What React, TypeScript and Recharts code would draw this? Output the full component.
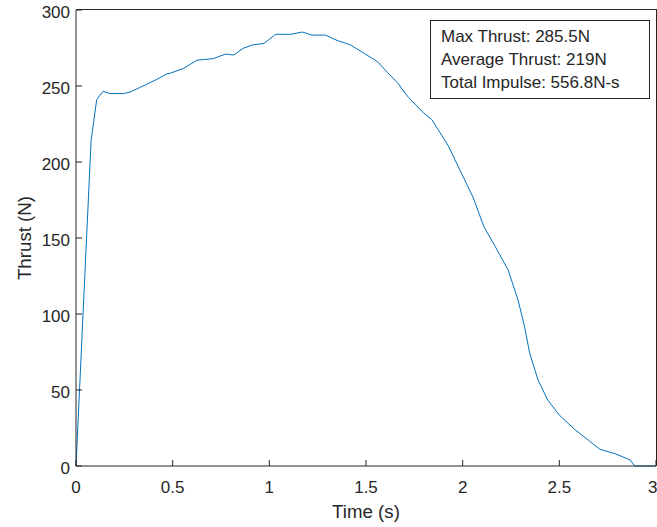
import { Label, Line, LineChart, XAxis, YAxis } from "recharts";

const time = [
  0, 0.078, 0.107, 0.14, 0.176, 0.245, 0.28, 0.33, 0.38, 0.42, 0.47, 0.49, 0.557, 0.626, 0.71,
  0.773, 0.816, 0.865, 0.912, 0.972, 1.033, 1.11, 1.171, 1.22, 1.29, 1.35, 1.42, 1.49, 1.56,
  1.61, 1.664, 1.716, 1.8, 1.84, 1.924, 2.053, 2.11, 2.17, 2.235, 2.287, 2.32, 2.347, 2.39,
  2.44, 2.5, 2.58, 2.65, 2.71, 2.79, 2.866, 2.89, 3,
];
const thrust = [
  0, 214, 241, 246.5, 245, 245, 246, 249, 252, 254.5, 258, 258.5, 261.6, 267, 268, 271, 270.4,
  274.8, 277, 278, 284, 284, 285.5, 283.5, 283.5, 280, 277, 271.5, 266, 259, 252, 243, 232,
  228, 211, 177, 157.4, 144, 129, 109, 91.6, 74, 56.6, 43.4, 33.5, 24, 17, 11, 8, 4, 0, 0,
];
const xTicks = [0, 0.5, 1, 1.5, 2, 2.5, 3];
const yTicks = [0, 50, 100, 150, 200, 250, 300];
const notes = ["Max Thrust: 285.5N", "Average Thrust: 219N", "Total Impulse: 556.8N-s"];

const data = time.map((t, i) => ({ t, f: thrust[i] }));

const ink = "#262626";
const font = "'Liberation Sans', Arial, sans-serif";

export default function App() {
  return (
    <div style={{ position: "absolute", left: 0, top: 0, width: 657, height: 527, background: "#fff" }}>
      <LineChart
        width={657}
        height={527}
        data={data}
        margin={{ top: 10, right: 1, bottom: 0, left: 0 }}
        style={{ fontFamily: font }}
      >
        <XAxis
          dataKey="t"
          type="number"
          domain={[0, 3]}
          ticks={xTicks}
          height={61}
          stroke={ink}
          tickSize={-6}
          tickMargin={21}
          tick={{ fill: ink, fontSize: 17 }}
        >
          <Label value="Time (s)" position="insideBottom" offset={9} fill={ink} fontSize={18.7} />
        </XAxis>
        <YAxis
          type="number"
          domain={[0, 300]}
          ticks={yTicks}
          width={76}
          stroke={ink}
          tickSize={-6}
          tickMargin={12}
          tick={{ fill: ink, fontSize: 17, dy: 2 }}
        >
          <Label value="Thrust (N)" angle={-90} position="center" dx={-14} fill={ink} fontSize={18.7} />
        </YAxis>
        <Line
          type="linear"
          dataKey="f"
          stroke="#0072BD"
          strokeWidth={1}
          dot={false}
          isAnimationActive={false}
        />
      </LineChart>
      {/* top and right edges of the axes box */}
      <div
        style={{
          position: "absolute",
          left: 76,
          top: 9,
          width: 581,
          height: 457,
          boxSizing: "border-box",
          borderTop: `1px solid ${ink}`,
          borderRight: `1px solid ${ink}`,
          pointerEvents: "none",
        }}
      />
      <div
        style={{
          position: "absolute",
          left: 430,
          top: 20,
          width: 198,
          border: `1px solid ${ink}`,
          background: "#fff",
          padding: "4px 10px",
          font: `17px ${font}`,
          lineHeight: "23px",
          color: ink,
          whiteSpace: "nowrap",
        }}
      >
        {notes.map((n) => (
          <div key={n}>{n}</div>
        ))}
      </div>
    </div>
  );
}
